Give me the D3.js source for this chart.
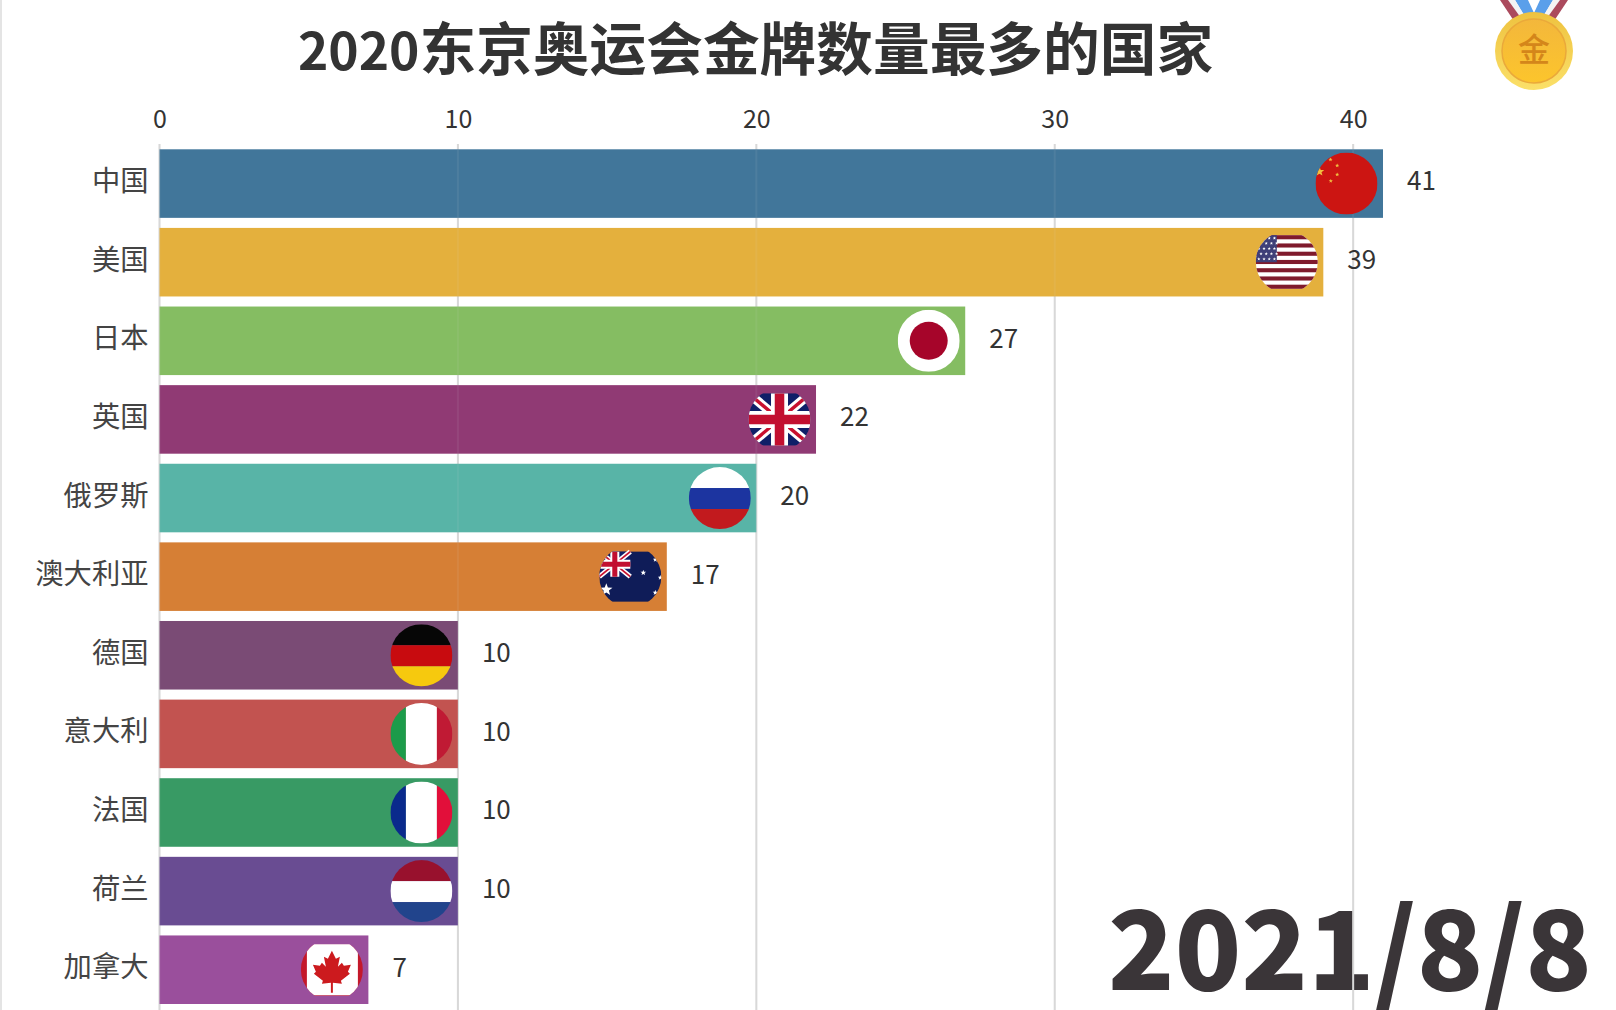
<!DOCTYPE html>
<html>
<head>
<meta charset="utf-8">
<script src="https://cdn.jsdelivr.net/npm/d3@7"></script>
<style>
  html, body { margin: 0; padding: 0; background: #fff; }
  svg { display: block; }
  text { font-family: "Noto Sans CJK SC", "Noto Sans", sans-serif; }
</style>
</head>
<body>
<div id="chart"></div>
<script>
// Gold medal counts
const countries = ["中国", "美国", "日本", "英国", "俄罗斯", "澳大利亚", "德国", "意大利", "法国", "荷兰", "加拿大"];
const golds = [41, 39, 27, 22, 20, 17, 10, 10, 10, 10, 7];
const barColors = ["#41769a", "#e4b03d", "#85bd62", "#903a74", "#58b4a7", "#d67f35", "#7a4b75", "#c25350", "#389a64", "#694c92", "#9a4f9c"];
const xTicks = [0, 10, 20, 30, 40];
const titleYear = "2020";
const titleRest = "东京奥运会金牌数量最多的国家";
const dateText = "2021/8/8";

const width = 1616;
const height = 1010;
const margin = { top: 149.3, right: 233, bottom: 6, left: 159.5 };

const svg = d3.select("#chart")
    .append("svg")
    .attr("width", width)
    .attr("height", height);

const defs = svg.append("defs");

// Scales
const xScale = d3.scaleLinear()
    .domain([0, 41])
    .range([margin.left, width - margin.right]);

const yScale = d3.scaleBand()
    .domain(countries)
    .range([margin.top, height - margin.bottom])
    .paddingInner(0.128);

// Thin grey strip on the left edge of the frame
svg.append("rect")
    .attr("x", 0).attr("y", 0)
    .attr("width", 2).attr("height", height)
    .attr("fill", "#e4e4e4");

// The date sits under the grid, the 40 line crosses it
svg.append("text")
    .attr("x", 1592)
    .attr("y", 990)
    .attr("text-anchor", "end")
    .attr("font-size", 109.4)
    .attr("font-weight", 900)
    .attr("fill", "#3a3538")
    .text(dateText);

function drawGrid(opacity) {
    svg.append("g")
        .attr("opacity", opacity)
        .selectAll("line")
        .data(xTicks)
        .join("line")
        .attr("x1", d => xScale(d))
        .attr("x2", d => xScale(d))
        .attr("y1", 144)
        .attr("y2", height)
        .attr("stroke", "#d8d8d8")
        .attr("stroke-width", 2);
}

drawGrid(1);

// Bars
svg.append("g")
    .selectAll("rect")
    .data(countries)
    .join("rect")
    .attr("x", xScale(0))
    .attr("y", d => yScale(d))
    .attr("width", (d, i) => xScale(golds[i]) - xScale(0))
    .attr("height", yScale.bandwidth())
    .attr("fill", (d, i) => barColors[i]);

// Grid lines show faintly through the bars
drawGrid(0.08);

// Top axis
const xAxis = svg.append("g")
    .attr("transform", `translate(0,${margin.top - 21})`)
    .call(d3.axisTop(xScale).tickValues(xTicks).tickSize(0).tickPadding(0).tickFormat(d3.format("d")));
xAxis.select(".domain").remove();
xAxis.selectAll("text")
    .attr("font-size", 25)
    .attr("fill", "#333")
    .style("font-family", '"Noto Sans CJK SC", sans-serif');

// Country labels
const yAxis = svg.append("g")
    .attr("transform", `translate(${margin.left - 11},-1.5)`)
    .call(d3.axisLeft(yScale).tickSize(0).tickPadding(0));
yAxis.select(".domain").remove();
yAxis.selectAll("text")
    .attr("font-size", 28.3)
    .attr("fill", "#444")
    .attr("dy", "0.32em")
    .style("font-family", '"Noto Sans CJK SC", sans-serif');

// Value labels
svg.append("g")
    .selectAll("text")
    .data(countries)
    .join("text")
    .attr("x", (d, i) => xScale(golds[i]) + 24)
    .attr("y", d => yScale(d) + yScale.bandwidth() / 2 - 2.5)
    .attr("dy", "0.36em")
    .attr("font-size", 26)
    .attr("fill", "#333")
    .text((d, i) => golds[i]);

// Flag helpers: everything is drawn in a -31..31 box and clipped to a circle
const R = 31;

function band(g, x, y, w, h, color) {
    return g.append("rect").attr("x", x).attr("y", y).attr("width", w).attr("height", h).attr("fill", color);
}

function star(g, cx, cy, r, color) {
    const pts = d3.range(10).map(i => {
        const a = -Math.PI / 2 + i * Math.PI / 5;
        const rr = i % 2 ? r * 0.42 : r;
        return [cx + rr * Math.cos(a), cy + rr * Math.sin(a)];
    });
    g.append("polygon").attr("points", pts.join(" ")).attr("fill", color);
}

function ukJack(g, x0, y0, x1, y1, thick) {
    const seg = (x, y, x2, y2, color, w) => g.append("line")
        .attr("x1", x).attr("y1", y).attr("x2", x2).attr("y2", y2)
        .attr("stroke", color).attr("stroke-width", w);
    const mx = (x0 + x1) / 2, my = (y0 + y1) / 2;
    band(g, x0, y0, x1 - x0, y1 - y0, "#0f1f68");
    seg(x0, y0, x1, y1, "#fff", thick * 0.55);
    seg(x0, y1, x1, y0, "#fff", thick * 0.55);
    seg(x0, y0, x1, y1, "#c8102e", thick * 0.2);
    seg(x0, y1, x1, y0, "#c8102e", thick * 0.2);
    seg(mx, y0, mx, y1, "#fff", thick);
    seg(x0, my, x1, my, "#fff", thick);
    seg(mx, y0, mx, y1, "#c20f30", thick * 0.56);
    seg(x0, my, x1, my, "#c20f30", thick * 0.56);
}

const flagPainters = {
    "中国": g => {
        band(g, -R, -R, 2 * R, 2 * R, "#cc1512");
        star(g, -27, -12, 5, "#f0c040");
        star(g, -16, -24, 2.2, "#f0c040");
        star(g, -9.3, -18, 2.2, "#f0c040");
        star(g, -9.3, -9, 2.2, "#f0c040");
        star(g, -15.7, -2.7, 2.2, "#f0c040");
    },
    "美国": g => {
        band(g, -R, -27, 2 * R, 53.5, "#fff");
        d3.range(7).forEach(i => band(g, -R, -27 + i * 8.25, 2 * R, 4.1, "#7f1a2c"));
        band(g, -R, -27, 21, 27, "#3f3f78");
        d3.range(5).forEach(r => d3.range(4).forEach(c => {
            star(g, -28 + c * 5.2 + (r % 2) * 2.2, -24 + r * 5.2, 1.7, "#fff");
        }));
    },
    "日本": g => {
        band(g, -R, -R, 2 * R, 2 * R, "#fff");
        g.append("circle").attr("r", 19).attr("fill", "#a6052a");
    },
    "英国": g => {
        ukJack(g, -R, -26, R, 26, 17);
    },
    "俄罗斯": g => {
        band(g, -R, -R, 2 * R, 21, "#fff");
        band(g, -R, -10, 2 * R, 21, "#1c34a0");
        band(g, -R, 11, 2 * R, 21, "#c21a1e");
    },
    "澳大利亚": g => {
        band(g, -R, -25, 2 * R, 50, "#0f1c58");
        const jack = g.append("g");
        ukJack(jack, -R, -25, 0, 0, 9);
        star(g, -24, 13, 6.5, "#fff");
        star(g, 13, -4, 3, "#fff");
        star(g, 25, -17, 2.6, "#fff");
        star(g, 30, 1, 2.6, "#fff");
        star(g, 25, 16, 2.8, "#fff");
    },
    "德国": g => {
        band(g, -R, -R, 2 * R, 21, "#060606");
        band(g, -R, -10, 2 * R, 21, "#c80b0f");
        band(g, -R, 11, 2 * R, 21, "#f6c90e");
    },
    "意大利": g => {
        band(g, -R, -R, 15.5, 2 * R, "#1c9b4a");
        band(g, -15.5, -R, 31, 2 * R, "#fff");
        band(g, 15.5, -R, 15.5, 2 * R, "#c01a34");
    },
    "法国": g => {
        band(g, -R, -R, 15.5, 2 * R, "#0a2a8c");
        band(g, -15.5, -R, 31, 2 * R, "#fff");
        band(g, 15.5, -R, 15.5, 2 * R, "#e20f3a");
    },
    "荷兰": g => {
        band(g, -R, -R, 2 * R, 21, "#98112d");
        band(g, -R, -10, 2 * R, 21, "#fff");
        band(g, -R, 11, 2 * R, 21, "#21448c");
    },
    "加拿大": g => {
        band(g, -R, -25, 2 * R, 51, "#c4182a");
        g.append("rect").attr("x", -25).attr("y", -25.5).attr("width", 51).attr("height", 51)
            .attr("rx", 7).attr("fill", "#fff");
        g.append("path")
            .attr("d", "M0,-19 L4,-11 L8,-13 L6,-3 L10,-7 L12,-4 L19,-5 L16,2 L18,4 L9,11 L10,14 L1,13 L1,23 L-1,23 L-1,13 L-10,14 L-9,11 L-18,4 L-16,2 L-19,-5 L-12,-4 L-10,-7 L-6,-3 L-8,-13 L-4,-11 Z")
            .attr("fill", "#cc1a1e");
    }
};

defs.append("clipPath").attr("id", "flagClip").append("circle").attr("r", R);

svg.append("g")
    .selectAll("g")
    .data(countries)
    .join("g")
    .attr("transform", (d, i) => `translate(${xScale(golds[i]) - 36.5},${yScale(d) + yScale.bandwidth() / 2})`)
    .attr("clip-path", "url(#flagClip)")
    .each(function(d) {
        flagPainters[d](d3.select(this));
    });

// Title, the year is set a little smaller than the Chinese text
const title = svg.append("text")
    .attr("x", 755.5)
    .attr("y", 70)
    .attr("text-anchor", "middle")
    .attr("font-weight", 700)
    .attr("fill", "#333");
title.append("tspan").attr("font-size", 51.5).text(titleYear);
title.append("tspan").attr("font-size", 56.7).text(titleRest);

// Medal in the top right corner
const medalGrad = defs.append("linearGradient").attr("id", "medalGrad")
    .attr("x1", 0).attr("y1", 0).attr("x2", 0).attr("y2", 1);
medalGrad.append("stop").attr("offset", 0).attr("stop-color", "#f3b73c");
medalGrad.append("stop").attr("offset", 1).attr("stop-color", "#fcc52c");

const rimGrad = defs.append("linearGradient").attr("id", "rimGrad")
    .attr("x1", 0).attr("y1", 0).attr("x2", 0).attr("y2", 1);
rimGrad.append("stop").attr("offset", 0).attr("stop-color", "#eec23f");
rimGrad.append("stop").attr("offset", 1).attr("stop-color", "#fbe069");

const medal = svg.append("g").attr("transform", "translate(1534,51)");
[-1, 1].forEach(side => {
    medal.append("polygon")
        .attr("points", `${side * 19},-51 ${side * 6},-51 0,-38 ${side * 10},-36`)
        .attr("fill", "#5a9fea");
    medal.append("polygon")
        .attr("points", `${side * 26},-51 ${side * 19},-51 ${side * 10},-36 ${side * 13},-33`)
        .attr("fill", "#f4f4f4");
    medal.append("polygon")
        .attr("points", `${side * 34},-51 ${side * 26},-51 ${side * 13},-33 ${side * 20},-30`)
        .attr("fill", "#ab4a5d");
});
medal.append("circle").attr("r", 39).attr("fill", "url(#rimGrad)");
medal.append("circle").attr("r", 32).attr("fill", "url(#medalGrad)").attr("stroke", "#eaa93a").attr("stroke-width", 1.5);
medal.append("text")
    .attr("text-anchor", "middle")
    .attr("y", 10)
    .attr("font-size", 32)
    .attr("font-weight", 500)
    .attr("fill", "#d4861a")
    .text("金");
</script>
</body>
</html>
